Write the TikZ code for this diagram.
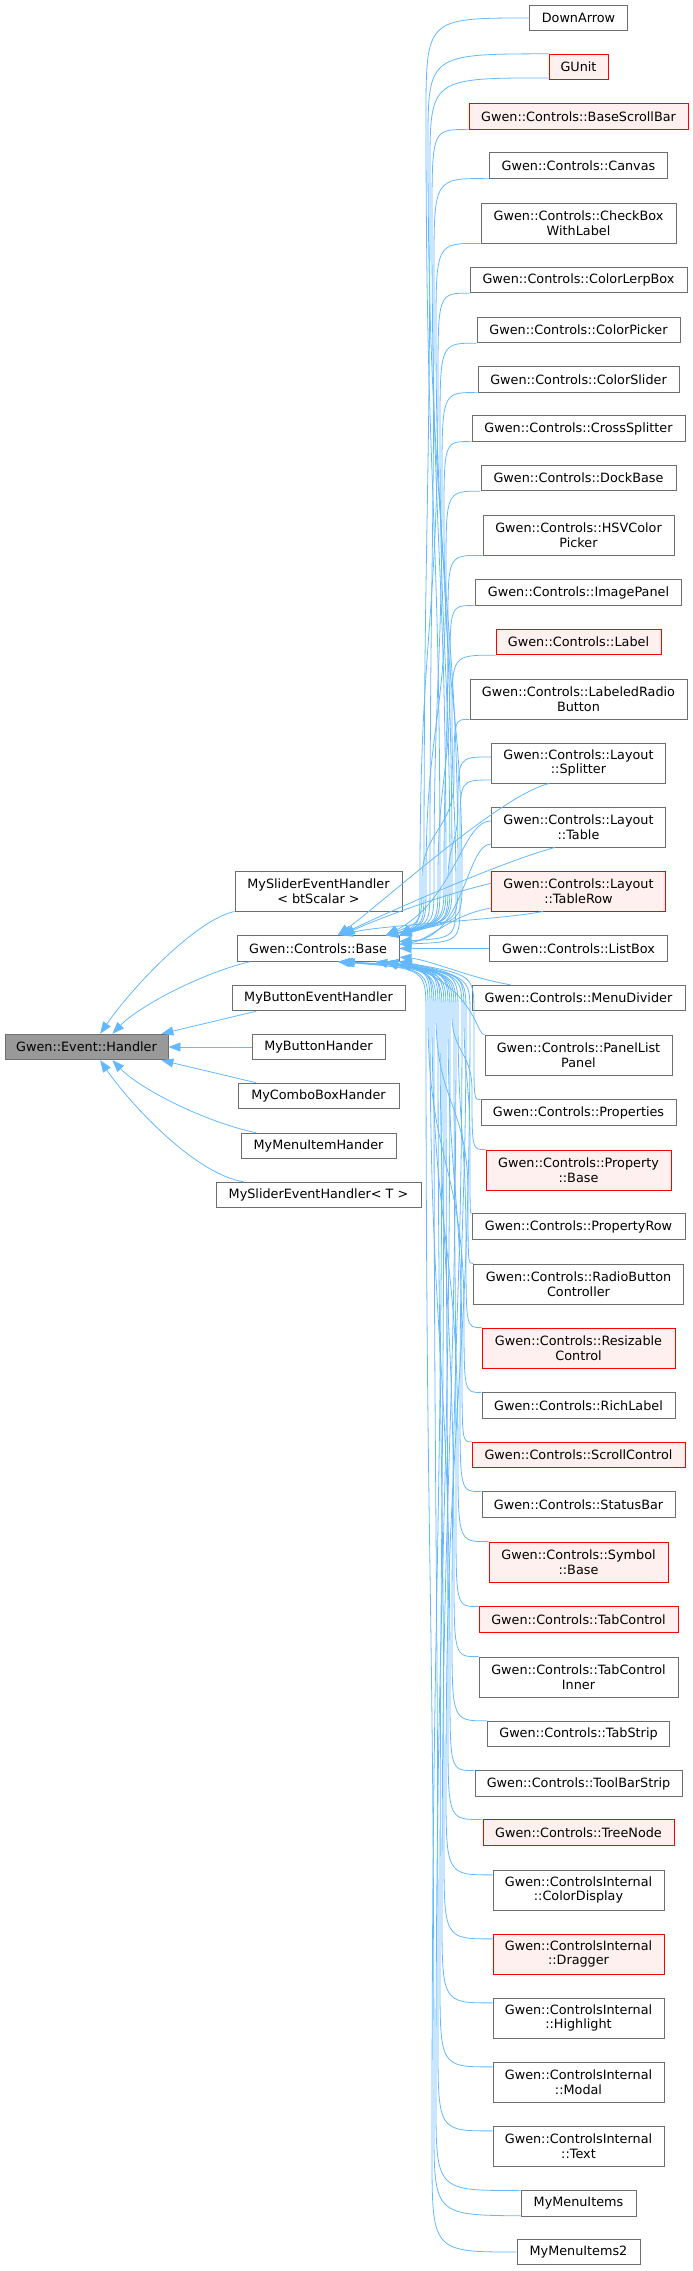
\documentclass[tikz,border=0pt]{standalone}
\usepackage{fontspec}
\setmainfont{DejaVu Sans}
\usepackage{tikz}
\usetikzlibrary{
	arrows.meta,
	calc
}
\definecolor{EdgeBlue}{RGB}{99,184,255}
\definecolor{BoxGray}{RGB}{110,110,110}
\definecolor{HotRed}{RGB}{255,0,0}
\definecolor{HotFill}{RGB}{255,240,240}
\definecolor{RootFill}{RGB}{153,153,153}

\begin{document}
\begin{tikzpicture}[x=1pt, y=-1pt,
	cls/.style={draw=BoxGray, fill=white, line width=0.9pt, inner xsep=2pt, inner ysep=0pt,
		minimum height=25.5pt, align=center, font=\fontsize{12.8}{14.7}\selectfont},
	cls2/.style={cls, minimum height=40pt},
	hot/.style={cls, draw=HotRed, fill=HotFill},
	hot2/.style={cls2, draw=HotRed, fill=HotFill},
	root/.style={cls, fill=RootFill},
	edge/.style={draw=EdgeBlue, line width=0.8pt, -{Triangle[length=12pt,width=9pt]}}]
		\useasboundingbox (0,0) rectangle (693,2271);
		
		% 基类
		\node[root, minimum width=163pt] (Handler) at (86.5,1047) {Gwen::Event::Handler};
		
		% 中间一列
		\node[cls2, minimum width=167pt] (SliderBt) at (318.5,891) {MySliderEventHandler\\< btScalar >};
		\node[cls, minimum width=162pt] (Base) at (318,948.5) {Gwen::Controls::Base};
		\node[cls, minimum width=173pt] (ButtonEvent) at (318.5,998) {MyButtonEventHandler};
		\node[cls, minimum width=133pt] (ButtonHander) at (318.5,1047) {MyButtonHander};
		\node[cls, minimum width=161pt] (ComboHander) at (318.5,1096) {MyComboBoxHander};
		\node[cls, minimum width=155pt] (MenuItemHander) at (318.5,1146) {MyMenuItemHander};
		\node[cls, minimum width=205pt] (SliderT) at (318.5,1195) {MySliderEventHandler< T >};
		
		% 右侧一列
		\node[cls, minimum width=98pt] (DownArrow) at (578.5,18) {DownArrow};
		\node[hot, minimum width=59pt] (GUnit) at (578.5,67) {GUnit};
		\node[hot, minimum width=219pt] (BaseScrollBar) at (578.5,116.5) {Gwen::Controls::BaseScrollBar};
		\node[cls, minimum width=178pt] (Canvas) at (578.5,165.5) {Gwen::Controls::Canvas};
		\node[cls2, minimum width=195pt] (CheckBox) at (578.5,223) {Gwen::Controls::CheckBox\\WithLabel};
		\node[cls, minimum width=217pt] (ColorLerpBox) at (578.5,280) {Gwen::Controls::ColorLerpBox};
		\node[cls, minimum width=203pt] (ColorPicker) at (578.5,330) {Gwen::Controls::ColorPicker};
		\node[cls, minimum width=201pt] (ColorSlider) at (578.5,379.5) {Gwen::Controls::ColorSlider};
		\node[cls, minimum width=213pt] (CrossSplitter) at (578.5,428.5) {Gwen::Controls::CrossSplitter};
		\node[cls, minimum width=195pt] (DockBase) at (578.5,478) {Gwen::Controls::DockBase};
		\node[cls2, minimum width=191pt] (HSVPicker) at (578.5,535) {Gwen::Controls::HSVColor\\Picker};
		\node[cls, minimum width=206pt] (ImagePanel) at (578.5,592.5) {Gwen::Controls::ImagePanel};
		\node[hot, minimum width=165pt] (Label) at (578.5,642) {Gwen::Controls::Label};
		\node[cls2, minimum width=217pt] (LabeledRadio) at (578.5,699) {Gwen::Controls::LabeledRadio\\Button};
		\node[cls2, minimum width=174pt] (Splitter) at (578.5,763) {Gwen::Controls::Layout\\::Splitter};
		\node[cls2, minimum width=174pt] (Table) at (578.5,827) {Gwen::Controls::Layout\\::Table};
		\node[hot2, minimum width=174pt] (TableRow) at (578.5,891) {Gwen::Controls::Layout\\::TableRow};
		\node[cls, minimum width=178pt] (ListBox) at (578.5,948.5) {Gwen::Controls::ListBox};
		\node[cls, minimum width=213pt] (MenuDivider) at (578.5,998) {Gwen::Controls::MenuDivider};
		\node[cls2, minimum width=187pt] (PanelList) at (578.5,1055) {Gwen::Controls::PanelList\\Panel};
		\node[cls, minimum width=195pt] (Properties) at (578.5,1112.5) {Gwen::Controls::Properties};
		\node[hot2, minimum width=185pt] (PropertyBase) at (578.5,1170) {Gwen::Controls::Property\\::Base};
		\node[cls, minimum width=213pt] (PropertyRow) at (578.5,1226.5) {Gwen::Controls::PropertyRow};
		\node[cls2, minimum width=210pt] (RadioCtrl) at (578.5,1284) {Gwen::Controls::RadioButton\\Controller};
		\node[hot2, minimum width=193pt] (Resizable) at (578.5,1348) {Gwen::Controls::Resizable\\Control};
		\node[cls, minimum width=193pt] (RichLabel) at (578.5,1405.5) {Gwen::Controls::RichLabel};
		\node[hot, minimum width=213pt] (ScrollControl) at (578.5,1455) {Gwen::Controls::ScrollControl};
		\node[cls, minimum width=193pt] (StatusBar) at (578.5,1504.5) {Gwen::Controls::StatusBar};
		\node[hot2, minimum width=179pt] (SymbolBase) at (578.5,1562) {Gwen::Controls::Symbol\\::Base};
		\node[hot, minimum width=199pt] (TabControl) at (578.5,1619.5) {Gwen::Controls::TabControl};
		\node[cls2, minimum width=199pt] (TabInner) at (578.5,1677) {Gwen::Controls::TabControl\\Inner};
		\node[cls, minimum width=182pt] (TabStrip) at (578.5,1734) {Gwen::Controls::TabStrip};
		\node[cls, minimum width=207pt] (ToolBarStrip) at (578.5,1783.5) {Gwen::Controls::ToolBarStrip};
		\node[hot, minimum width=191pt] (TreeNode) at (578.5,1832.5) {Gwen::Controls::TreeNode};
		\node[cls2, minimum width=171pt] (ColorDisplay) at (578.5,1890) {Gwen::ControlsInternal\\::ColorDisplay};
		\node[hot2, minimum width=171pt] (Dragger) at (578.5,1954) {Gwen::ControlsInternal\\::Dragger};
		\node[cls2, minimum width=171pt] (Highlight) at (578.5,2018) {Gwen::ControlsInternal\\::Highlight};
		\node[cls2, minimum width=171pt] (Modal) at (578.5,2082) {Gwen::ControlsInternal\\::Modal};
		\node[cls2, minimum width=171pt] (Text) at (578.5,2146) {Gwen::ControlsInternal\\::Text};
		\node[cls, minimum width=115pt] (MenuItems) at (578.5,2203.5) {MyMenuItems};
		\node[cls, minimum width=123pt] (MenuItems2) at (578.5,2252) {MyMenuItems2};
		
		% 连线: 中间一列 -> Handler
		\draw[edge] (SliderBt.south west) .. controls (195,920) and (130,990) .. (Handler.44);
		\draw[edge] (Base.191) .. controls (205,972) and (140,1005) .. (Handler.27);
		\draw[edge] (ButtonEvent.192) -- (Handler.10);
		\draw[edge] (ButtonHander.west) -- (Handler.east);
		\draw[edge] (ComboHander.168) -- (Handler.-10);
		\draw[edge] (MenuItemHander.168) .. controls (205,1122) and (140,1089) .. (Handler.-27);
		\draw[edge] (SliderT.170) .. controls (195,1174) and (130,1104) .. (Handler.-44);
		
		% 连线: 上方 -> Base
		\draw[edge] (DownArrow.west) .. controls (426,18) .. (426,118) .. controls (426,499) and (440,499) .. (440,880) .. controls (440,922) .. (Base.9);
		\draw[edge] (GUnit.north west) .. controls (428,54) .. (428,144) .. controls (428,512) and (452,512) .. (452,880) .. controls (452,922) .. (Base.11);
		\draw[edge] (GUnit.200) .. controls (430,78) .. (430,168) .. controls (430,524) and (424,524) .. (424,880) .. controls (424,922) .. (Base.9);
		\draw[edge] (BaseScrollBar.south west) .. controls (432,129) .. (432,219) .. controls (432,550) and (446,550) .. (446,880) .. controls (446,922) .. (Base.11);
		\draw[edge] (Canvas.south west) .. controls (434,178) .. (434,268) .. controls (434,574) and (430,574) .. (430,880) .. controls (430,922) .. (Base.9);
		\draw[edge] (CheckBox.south west) .. controls (436,243) .. (436,333) .. controls (436,606) and (458,606) .. (458,880) .. controls (458,922) .. (Base.11);
		\draw[edge] (ColorLerpBox.south west) .. controls (438,293) .. (438,383) .. controls (438,632) and (420,632) .. (420,880) .. controls (420,922) .. (Base.9);
		\draw[edge] (ColorPicker.south west) .. controls (440,343) .. (440,433) .. controls (440,656) and (450,656) .. (450,880) .. controls (450,922) .. (Base.11);
		\draw[edge] (ColorSlider.south west) .. controls (442,392) .. (442,482) .. controls (442,681) and (434,681) .. (434,880) .. controls (434,922) .. (Base.9);
		\draw[edge] (CrossSplitter.south west) .. controls (444,441) .. (444,521) .. controls (444,700) and (462,700) .. (462,880) .. controls (462,922) .. (Base.11);
		\draw[edge] (DockBase.south west) .. controls (446,491) .. (446,571) .. controls (446,726) and (426,726) .. (426,880) .. controls (426,922) .. (Base.9);
		\draw[edge] (HSVPicker.south west) .. controls (448,555) .. (448,625) .. controls (448,752) and (444,752) .. (444,880) .. controls (444,922) .. (Base.11);
		\draw[edge] (ImagePanel.south west) .. controls (450,605) .. (450,675) .. controls (450,778) and (438,778) .. (438,880) .. controls (438,922) .. (Base.9);
		\draw[edge] (Label.south west) .. controls (452,655) .. (452,715) .. controls (452,805) and (456,805) .. (456,895) .. controls (456,938) .. (Base.5);
		\draw[edge] (LabeledRadio.south west) .. controls (454,719) .. (454,779) .. controls (454,830) and (422,830) .. (422,880) .. controls (422,922) .. (Base.11);
		\draw[edge] (Splitter.176) .. controls (458,757) .. (458,807) .. controls (458,844) and (448,844) .. (448,880) .. controls (448,922) .. (Base.9);
		\draw[edge] (Splitter.191) .. controls (460,780) .. (460,830) -- (460,900) .. controls (460,942) .. (Base.3);
		\draw[edge] (Table.176) .. controls (462,821) and (455,900) .. (Base.11);
		\draw[edge] (Table.191) .. controls (466,844) and (464,940) .. (Base.5);
		\draw[edge] (Splitter.215) .. controls (500,795) and (380,905) .. (Base.34);
		\draw[edge] (Table.221) .. controls (500,862) and (375,918) .. (Base.31);
		\draw[edge] (TableRow.175) .. controls (440,895) and (370,922) .. (Base.28);
		\draw[edge] (TableRow.191) .. controls (450,915) and (430,940) .. (Base.3);
		\draw[edge] (TableRow.210) .. controls (500,920) and (380,925) .. (Base.30);
		\draw[edge] (ListBox.west) -- (Base.east);
		\draw[edge] (MenuDivider.169) .. controls (470,978) and (430,960) .. (Base.-6);
		
		% 连线: 下方 -> Base
		\draw[edge] (PanelList.north west) .. controls (476,1035) and (476,990) .. (Base.-9);
		\draw[edge] (Properties.north west) .. controls (474,1100) .. (474,1050) -- (474,1015) .. controls (474,975) .. (Base.-9);
		\draw[edge] (PropertyBase.north west) .. controls (472,1150) .. (472,1090) .. controls (472,1052) and (452,1052) .. (452,1015) .. controls (452,975) .. (Base.-11);
		\draw[edge] (PropertyRow.north west) .. controls (470,1214) .. (470,1144) .. controls (470,1080) and (464,1080) .. (464,1015) .. controls (464,975) .. (Base.-9);
		\draw[edge] (RadioCtrl.north west) .. controls (468,1264) .. (468,1194) .. controls (468,1104) and (436,1104) .. (436,1015) .. controls (436,975) .. (Base.-11);
		\draw[edge] (Resizable.north west) .. controls (466,1328) .. (466,1248) .. controls (466,1132) and (458,1132) .. (458,1015) .. controls (458,975) .. (Base.-9);
		\draw[edge] (RichLabel.north west) .. controls (464,1393) .. (464,1313) .. controls (464,1164) and (428,1164) .. (428,1015) .. controls (428,975) .. (Base.-11);
		\draw[edge] (ScrollControl.north west) .. controls (462,1442) .. (462,1362) .. controls (462,1188) and (448,1188) .. (448,1015) .. controls (448,975) .. (Base.-9);
		\draw[edge] (StatusBar.north west) .. controls (460,1492) .. (460,1402) .. controls (460,1208) and (466,1208) .. (466,1015) .. controls (466,975) .. (Base.-11);
		\draw[edge] (SymbolBase.north west) .. controls (458,1542) .. (458,1452) .. controls (458,1234) and (432,1234) .. (432,1015) .. controls (432,975) .. (Base.-9);
		\draw[edge] (TabControl.north west) .. controls (456,1607) .. (456,1517) .. controls (456,1266) and (454,1266) .. (454,1015) .. controls (454,975) .. (Base.-11);
		\draw[edge] (TabInner.north west) .. controls (454,1657) .. (454,1567) .. controls (454,1291) and (440,1291) .. (440,1015) .. controls (440,975) .. (Base.-9);
		\draw[edge] (TabStrip.north west) .. controls (452,1721) .. (452,1631) .. controls (452,1323) and (462,1323) .. (462,1015) .. controls (462,975) .. (Base.-11);
		\draw[edge] (ToolBarStrip.north west) .. controls (450,1771) .. (450,1681) .. controls (450,1348) and (430,1348) .. (430,1015) .. controls (430,975) .. (Base.-9);
		\draw[edge] (TreeNode.north west) .. controls (448,1820) .. (448,1730) .. controls (448,1372) and (446,1372) .. (446,1015) .. controls (446,975) .. (Base.-11);
		\draw[edge] (ColorDisplay.170) .. controls (446,1875) .. (446,1785) .. controls (446,1400) and (470,1400) .. (470,1015) .. controls (470,975) .. (Base.-13);
		\draw[edge] (Dragger.170) .. controls (444,1939) .. (444,1849) .. controls (444,1432) and (438,1432) .. (438,1015) .. controls (438,975) .. (Base.-9);
		\draw[edge] (Highlight.170) .. controls (442,2003) .. (442,1913) .. controls (442,1464) and (456,1464) .. (456,1015) .. controls (456,975) .. (Base.-11);
		\draw[edge] (Modal.170) .. controls (440,2067) .. (440,1977) .. controls (440,1496) and (444,1496) .. (444,1015) .. controls (444,967) .. (Base.-30);
		\draw[edge] (Text.170) .. controls (438,2131) .. (438,2041) .. controls (438,1528) and (434,1528) .. (434,1015) .. controls (434,967) .. (Base.-30);
		\draw[edge] (MenuItems.north west) .. controls (436,2191) .. (436,2101) .. controls (436,1558) and (450,1558) .. (450,1015) .. controls (450,968) .. (Base.-32);
		\draw[edge] (MenuItems.192) .. controls (434,2215) .. (434,2125) .. controls (434,1570) and (426,1570) .. (426,1015) .. controls (426,969) .. (Base.-28);
		\draw[edge] (MenuItems2.west) .. controls (432,2252) .. (432,2152) .. controls (432,1584) and (442,1584) .. (442,1015) .. controls (442,970) .. (Base.-34);
	\end{tikzpicture}
\end{document}
